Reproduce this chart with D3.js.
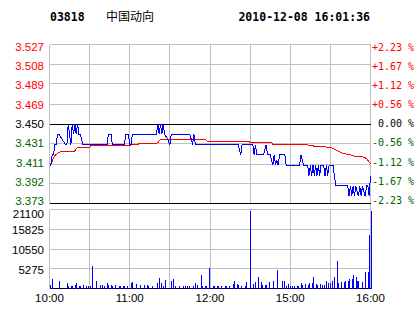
<!DOCTYPE html>
<html>
<head>
<meta charset="utf-8">
<script src="https://cdn.jsdelivr.net/npm/d3@7"></script>
<style>
body { margin: 0; background: #fff; }
svg { display: block; }
</style>
</head>
<body>
<div id="chart"></div>
<script>
let stockCode = "03818";
let stockName = "中国动向";
let stamp = "2010-12-08 16:01:36";

// price axis (left) and change axis (right)
let priceTicks = [3.527, 3.508, 3.489, 3.469, 3.450, 3.431, 3.411, 3.392, 3.373];
let priceLabels = ["3.527", "3.508", "3.489", "3.469", "3.450", "3.431", "3.411", "3.392", "3.373"];
let pctLabels = ["+2.23 %", "+1.67 %", "+1.12 %", "+0.56 %", " 0.00 %", "-0.56 %", "-1.12 %", "-1.67 %", "-2.23 %"];
let preClose = 3.450;

// volume axis
let volTicks = [21100, 15825, 10550, 5275, 0];

// minutes since 10:00 (lunch break removed)
let timeTicks = [0, 60, 120, 180, 240];
let timeLabels = ["10:00", "11:00", "12:00", "15:00", "16:00"];

// last price, one per minute
let priceLine = [
    3.41, 3.41, 3.42, 3.42, 3.43, 3.43, 3.44, 3.44, 3.438, 3.436,
    3.434, 3.432, 3.43, 3.43, 3.45, 3.44, 3.43, 3.45, 3.44, 3.45,
    3.44, 3.45, 3.44, 3.44, 3.435, 3.43, 3.43, 3.43, 3.43, 3.43,
    3.43, 3.43, 3.43, 3.43, 3.43, 3.43, 3.43, 3.43, 3.43, 3.43,
    3.43, 3.43, 3.43, 3.43, 3.44, 3.44, 3.44, 3.43, 3.43, 3.43,
    3.43, 3.43, 3.43, 3.43, 3.43, 3.43, 3.43, 3.44, 3.44, 3.44,
    3.43, 3.43, 3.44, 3.44, 3.44, 3.44, 3.44, 3.44, 3.44, 3.44,
    3.44, 3.44, 3.44, 3.44, 3.44, 3.44, 3.44, 3.44, 3.44, 3.44,
    3.44, 3.45, 3.44, 3.45, 3.44, 3.45, 3.44, 3.438, 3.436, 3.433,
    3.43, 3.44, 3.44, 3.44, 3.44, 3.44, 3.44, 3.44, 3.44, 3.44,
    3.44, 3.44, 3.44, 3.44, 3.44, 3.44, 3.435, 3.43, 3.44, 3.43,
    3.43, 3.43, 3.43, 3.43, 3.43, 3.43, 3.43, 3.43, 3.43, 3.43,
    3.43, 3.43, 3.43, 3.43, 3.43, 3.43, 3.43, 3.43, 3.43, 3.43,
    3.43, 3.43, 3.43, 3.43, 3.43, 3.43, 3.43, 3.43, 3.43, 3.43,
    3.43, 3.43, 3.425, 3.42, 3.43, 3.43, 3.43, 3.43, 3.43, 3.43,
    3.43, 3.43, 3.43, 3.42, 3.43, 3.42, 3.42, 3.42, 3.42, 3.42,
    3.42, 3.425, 3.43, 3.42, 3.42, 3.42, 3.415, 3.41, 3.42, 3.41,
    3.415, 3.41, 3.42, 3.42, 3.42, 3.42, 3.42, 3.41, 3.41, 3.41,
    3.41, 3.41, 3.41, 3.41, 3.41, 3.41, 3.41, 3.41, 3.42, 3.415,
    3.41, 3.41, 3.41, 3.41, 3.40, 3.41, 3.40, 3.41, 3.40, 3.41,
    3.40, 3.41, 3.40, 3.41, 3.41, 3.41, 3.40, 3.41, 3.40, 3.41,
    3.41, 3.41, 3.41, 3.40, 3.39, 3.39, 3.39, 3.39, 3.39, 3.39,
    3.39, 3.39, 3.39, 3.39, 3.38, 3.39, 3.38, 3.39, 3.38, 3.39,
    3.385, 3.38, 3.39, 3.38, 3.39, 3.385, 3.38, 3.39, 3.39, 3.38,
    3.40
];

// average price, one per minute
let avgLine = [
    3.4108, 3.4115, 3.414, 3.4173, 3.4192, 3.4205, 3.4214, 3.4224, 3.4231, 3.4231,
    3.4231, 3.4231, 3.4231, 3.4231, 3.4231, 3.4231, 3.4231, 3.4231, 3.4231, 3.4243,
    3.4262, 3.4275, 3.4275, 3.4275, 3.4275, 3.4275, 3.4275, 3.4275, 3.4275, 3.4275,
    3.4275, 3.4291, 3.4291, 3.4291, 3.4291, 3.4291, 3.4291, 3.4291, 3.4291, 3.4291,
    3.4291, 3.4291, 3.4291, 3.4291, 3.4291, 3.4291, 3.4291, 3.4291, 3.4291, 3.4291,
    3.4291, 3.4291, 3.4291, 3.4291, 3.4291, 3.4291, 3.4291, 3.4291, 3.4291, 3.4291,
    3.4291, 3.4301, 3.4301, 3.4301, 3.4301, 3.4301, 3.4301, 3.431, 3.431, 3.431,
    3.431, 3.431, 3.431, 3.431, 3.431, 3.431, 3.431, 3.431, 3.431, 3.431,
    3.431, 3.432, 3.4335, 3.4347, 3.4347, 3.4347, 3.4347, 3.4347, 3.4347, 3.4347,
    3.4347, 3.4347, 3.4347, 3.4347, 3.4347, 3.4347, 3.4347, 3.4347, 3.4347, 3.4347,
    3.4347, 3.4347, 3.4347, 3.4347, 3.4347, 3.4347, 3.4347, 3.4347, 3.4347, 3.4347,
    3.4347, 3.4347, 3.4347, 3.4347, 3.4347, 3.4347, 3.4347, 3.4347, 3.4333, 3.4333,
    3.4333, 3.4333, 3.4333, 3.4333, 3.4333, 3.4333, 3.4333, 3.4333, 3.4333, 3.4333,
    3.4333, 3.4333, 3.4333, 3.4333, 3.4333, 3.4333, 3.4333, 3.4333, 3.4333, 3.4333,
    3.4333, 3.4333, 3.4333, 3.4333, 3.4333, 3.4333, 3.4333, 3.4333, 3.4333, 3.4333,
    3.432, 3.432, 3.432, 3.432, 3.432, 3.432, 3.432, 3.432, 3.432, 3.432,
    3.432, 3.432, 3.432, 3.432, 3.432, 3.432, 3.432, 3.4301, 3.4301, 3.4301,
    3.4301, 3.4301, 3.4301, 3.4301, 3.4301, 3.4301, 3.4301, 3.4301, 3.4301, 3.4301,
    3.4301, 3.4301, 3.4301, 3.4301, 3.4301, 3.4301, 3.4301, 3.4301, 3.4301, 3.4301,
    3.4301, 3.4301, 3.4301, 3.4301, 3.4291, 3.4291, 3.4291, 3.4291, 3.4282, 3.4282,
    3.4282, 3.4282, 3.4282, 3.4282, 3.4282, 3.4282, 3.4282, 3.4275, 3.4275, 3.4275,
    3.4275, 3.4269, 3.4262, 3.4256, 3.425, 3.4243, 3.4236, 3.423, 3.4224, 3.4218,
    3.4214, 3.4211, 3.4208, 3.4205, 3.4203, 3.42, 3.4198, 3.4194, 3.4188, 3.4188,
    3.4188, 3.4188, 3.4188, 3.4185, 3.4181, 3.4177, 3.4172, 3.4166, 3.415, 3.4132,
    3.4115
];

// [minute, volume]
let volumeBars = [
    [0, 1055], [2, 2640], [7, 2110], [13, 1580], [14, 790], [16, 790], [17, 790], [19, 1055],
    [20, 1580], [22, 790], [23, 790], [25, 1055], [27, 790], [29, 790], [30, 790], [32, 6070],
    [35, 2110], [38, 1055], [39, 1055], [41, 790], [43, 1580], [44, 1055], [46, 1055], [47, 790],
    [49, 1055], [52, 790], [53, 790], [55, 790], [56, 790], [58, 790], [61, 1580], [62, 1850],
    [65, 1320], [68, 1055], [71, 1055], [73, 1055], [74, 790], [77, 790], [80, 1580], [82, 2900],
    [83, 1580], [85, 790], [86, 2370], [91, 2110], [92, 2640], [94, 790], [97, 790], [100, 790],
    [101, 790], [103, 790], [104, 790], [107, 790], [109, 1580], [110, 1055], [113, 3690], [114, 790],
    [116, 790], [117, 790], [119, 5540], [122, 790], [123, 790], [125, 790], [126, 790], [128, 790],
    [131, 790], [132, 790], [134, 790], [137, 1320], [138, 2110], [140, 1320], [141, 1055], [143, 790],
    [146, 790], [147, 1850], [150, 20570], [152, 1320], [154, 1850], [156, 3160], [158, 1850], [159, 1055],
    [161, 1055], [162, 1055], [164, 1850], [167, 2110], [170, 5010], [174, 2110], [175, 2110], [177, 790],
    [178, 1320], [180, 790], [181, 790], [183, 790], [185, 790], [186, 790], [188, 1580], [189, 1055],
    [191, 1320], [193, 1055], [194, 1580], [196, 1580], [197, 3160], [199, 1320], [200, 1055], [202, 1320],
    [204, 1055], [205, 1055], [207, 2110], [208, 1580], [210, 1580], [211, 2110], [213, 3160], [215, 7380],
    [216, 1580], [218, 1850], [220, 1850], [221, 2110], [223, 2110], [224, 2640], [226, 2640], [227, 3690],
    [229, 3160], [230, 2110], [231, 2110], [234, 1850], [236, 4480], [238, 4480], [239, 14240], [240, 20570]
];

function loadGraph() {

    let plotWidth = 414;
    let plotHeight = 314;

    let left = 49.5, right = 370.5;
    let priceTop = 44.5, priceBottom = 203.5;
    let volTop = 209.5, volBottom = 288.5;

    let gridColor = "#c0c0c0";
    let upColor = "#ff0000";
    let downColor = "#006400";
    let labelFont = "'Liberation Sans', Arial, sans-serif";
    let monoFont = "'DejaVu Sans Mono', monospace";

    let svg = d3.select("#chart")
        .append("svg")
        .attr("width", plotWidth)
        .attr("height", plotHeight);

    svg.append("rect")
        .attr("width", plotWidth)
        .attr("height", plotHeight)
        .attr("fill", "#fff");

    //Create scales
    let xScale = d3.scaleLinear().domain([0, 240]).range([left, right]);
    let yScale = d3.scaleLinear().domain([3.373, 3.527]).range([priceBottom, priceTop]);
    let labelScale = d3.scaleLinear().domain([3.527, 3.373]).range([47.2, 200.5]);
    let vScale = d3.scaleLinear().domain([0, 21100]).range([volBottom, volTop]);

    let gridTimes = d3.range(0, 241, 30);

    // Price panel grid (right border runs down to the volume panel)
    let grid = svg.append("g").attr("shape-rendering", "crispEdges");
    grid.selectAll(".vgp")
        .data(gridTimes)
        .enter()
        .append("line")
        .attr("x1", d => xScale(d)).attr("x2", d => xScale(d))
        .attr("y1", priceTop).attr("y2", d => d === 240 ? volTop : priceBottom)
        .attr("stroke", gridColor);

    grid.selectAll(".hgp")
        .data(priceTicks)
        .enter()
        .append("line")
        .attr("x1", left).attr("x2", right)
        .attr("y1", d => yScale(d)).attr("y2", d => yScale(d))
        .attr("stroke", (d, i) => (d === preClose || i === priceTicks.length - 1) ? "#000" : gridColor);

    // Volume panel grid
    grid.selectAll(".vgv")
        .data(gridTimes)
        .enter()
        .append("line")
        .attr("x1", d => xScale(d)).attr("x2", d => xScale(d))
        .attr("y1", volTop).attr("y2", volBottom)
        .attr("stroke", gridColor);

    grid.selectAll(".hgv")
        .data(volTicks)
        .enter()
        .append("line")
        .attr("x1", left).attr("x2", right)
        .attr("y1", d => vScale(d)).attr("y2", d => vScale(d))
        .attr("stroke", d => d === 0 ? "#000" : gridColor);

    // Header
    svg.append("text")
        .attr("x", 50).attr("y", 20.5)
        .attr("font-family", monoFont).attr("font-weight", "bold").attr("font-size", "11.5px")
        .text(stockCode);

    svg.append("text")
        .attr("x", 106).attr("y", 20.5)
        .attr("font-family", "'Noto Sans CJK SC', sans-serif").attr("font-size", "12px")
        .text(stockName);

    svg.append("text")
        .attr("x", 370).attr("y", 20.5)
        .attr("text-anchor", "end")
        .attr("font-family", monoFont).attr("font-weight", "bold").attr("font-size", "11.5px")
        .text(stamp);

    let tickColor = i => i < 4 ? upColor : (i === 4 ? "#000" : downColor);

    // Left price labels
    svg.selectAll(".plabel")
        .data(priceTicks)
        .enter()
        .append("text")
        .attr("x", 44)
        .attr("y", d => labelScale(d))
        .attr("dy", "0.35em")
        .attr("text-anchor", "end")
        .attr("font-family", labelFont).attr("font-size", "11.5px")
        .attr("fill", (d, i) => tickColor(i))
        .text((d, i) => priceLabels[i]);

    // Right change labels
    svg.selectAll(".clabel")
        .data(priceTicks)
        .enter()
        .append("text")
        .attr("x", 372)
        .attr("y", d => labelScale(d))
        .attr("dy", "0.35em")
        .style("white-space", "pre")
        .attr("font-family", monoFont).attr("font-size", "10px")
        .attr("fill", (d, i) => tickColor(i))
        .text((d, i) => pctLabels[i]);

    // Volume labels
    svg.selectAll(".vlabel")
        .data(volTicks.slice(0, 4))
        .enter()
        .append("text")
        .attr("x", 44)
        .attr("y", (d, i) => i === 0 ? vScale(d) + 4.2 : vScale(d) + 1)
        .attr("dy", "0.35em")
        .attr("text-anchor", "end")
        .attr("font-family", labelFont).attr("font-size", "11.5px")
        .attr("fill", "#000")
        .text(d => d);

    // Time labels
    svg.selectAll(".tlabel")
        .data(timeTicks)
        .enter()
        .append("text")
        .attr("x", d => xScale(d))
        .attr("y", 297.5)
        .attr("dy", "0.35em")
        .attr("text-anchor", "middle")
        .attr("font-family", labelFont).attr("font-size", "11.5px")
        .attr("fill", "#000")
        .text((d, i) => timeLabels[i]);

    // Volume bars
    svg.append("g")
        .attr("shape-rendering", "crispEdges")
        .selectAll("rect")
        .data(volumeBars)
        .enter()
        .append("rect")
        .attr("x", d => Math.round(xScale(d[0])))
        .attr("width", 1)
        .attr("y", d => vScale(d[1]))
        .attr("height", d => vScale(0) - vScale(d[1]))
        .attr("fill", "#0000ff");

    // Average and price lines
    let line = d3.line()
        .x((d, i) => xScale(i))
        .y(d => yScale(d));

    svg.append("path")
        .datum(avgLine)
        .attr("d", line)
        .attr("fill", "none")
        .attr("stroke", "#ff0000")
        .attr("stroke-width", 1)
        .attr("shape-rendering", "crispEdges");

    svg.append("path")
        .datum(priceLine)
        .attr("d", line)
        .attr("fill", "none")
        .attr("stroke", "#0000ff")
        .attr("stroke-width", 1)
        .attr("shape-rendering", "crispEdges");
}

loadGraph();
</script>
</body>
</html>
